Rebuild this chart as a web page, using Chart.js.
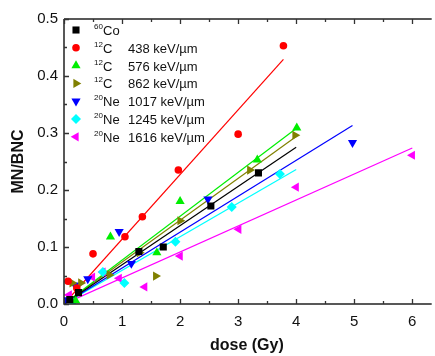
<!DOCTYPE html>
<html>
<head>
<meta charset="utf-8">
<script src="https://cdn.jsdelivr.net/npm/chart.js@4/dist/chart.umd.min.js"></script>
<style>
  html, body { margin: 0; padding: 0; background: #fff; }
  #wrap { width: 435px; height: 356px; }
</style>
</head>
<body>
<div id="wrap"><canvas id="chart" width="435" height="356"></canvas></div>
<script>
// series (dose in Gy, MN/BNC)
const isotopes = ["60", "12", "12", "12", "20", "20", "20"];
const elements = ["Co", "C", "C", "C", "Ne", "Ne", "Ne"];
const letLabels = ["", "438 keV/\u00b5m", "576 keV/\u00b5m", "862 keV/\u00b5m", "1017 keV/\u00b5m", "1245 keV/\u00b5m", "1616 keV/\u00b5m"];

const doseCo = [0.1, 0.25, 1.29, 1.71, 2.53, 3.35];
const mnCo = [0.008, 0.02, 0.092, 0.1, 0.172, 0.23];
const doseC438 = [0.07, 0.22, 0.5, 1.05, 1.35, 1.97, 3.0, 3.78];
const mnC438 = [0.04, 0.028, 0.088, 0.118, 0.153, 0.235, 0.298, 0.453];
const doseC576 = [0.2, 0.8, 1.6, 2.0, 3.33, 4.01];
const mnC576 = [0.006, 0.118, 0.09, 0.18, 0.253, 0.309];
const doseC862 = [0.14, 0.29, 0.78, 1.3, 1.58, 2.0, 3.2, 3.98];
const mnC862 = [0.037, 0.037, 0.051, 0.09, 0.049, 0.146, 0.235, 0.296];
const doseNe1017 = [0.02, 0.19, 0.41, 0.95, 1.16, 2.48, 4.97];
const mnNe1017 = [0.007, 0.033, 0.044, 0.127, 0.071, 0.184, 0.283];
const doseNe1245 = [0.15, 0.67, 1.04, 1.92, 2.89, 3.72];
const mnNe1245 = [0.004, 0.056, 0.037, 0.109, 0.17, 0.228];
const doseNe1616 = [0.09, 0.49, 0.67, 0.95, 1.39, 2.0, 3.01, 4.0, 6.0];
const mnNe1616 = [0.016, 0.047, 0.056, 0.045, 0.03, 0.084, 0.131, 0.205, 0.261];

// linear fits through origin: slope and last dose of each fit line
const fitSlopes = [0.0688, 0.1135, 0.077, 0.0735, 0.063, 0.059, 0.0456];
const fitEnds = [4.0, 3.78, 4.0, 4.0, 4.97, 4.0, 6.0];

const xTicks = [0, 1, 2, 3, 4, 5, 6];
const yTicks = [0.0, 0.1, 0.2, 0.3, 0.4, 0.5];

const allDoses = [doseCo, doseC438, doseC576, doseC862, doseNe1017, doseNe1245, doseNe1616];
const allMn = [mnCo, mnC438, mnC576, mnC862, mnNe1017, mnNe1245, mnNe1616];

const colors = ["#000000", "#ff0000", "#00ee00", "#808000", "#0000ff", "#00ffff", "#ff00ff"];
const styles = [
  { pointStyle: "rect", rotation: 0, radius: 5 },
  { pointStyle: "circle", rotation: 0, radius: 3.8 },
  { pointStyle: "triangle", rotation: 0, radius: 5.3 },
  { pointStyle: "triangle", rotation: 90, radius: 5.3 },
  { pointStyle: "triangle", rotation: 180, radius: 5.3 },
  { pointStyle: "rectRot", rotation: 0, radius: 5 },
  { pointStyle: "triangle", rotation: 270, radius: 5.3 },
];

const datasets = [];
allDoses.forEach((doses, i) => {
  datasets.push({
    type: "line",
    data: [{ x: 0, y: 0 }, { x: fitEnds[i], y: fitSlopes[i] * fitEnds[i] }],
    borderColor: colors[i],
    borderWidth: 1.2,
    pointRadius: 0,
    fill: false,
    order: 2,
  });
  datasets.push({
    type: "scatter",
    data: doses.map((d, k) => ({ x: d, y: allMn[i][k] })),
    backgroundColor: colors[i],
    borderColor: colors[i],
    borderWidth: 0,
    pointStyle: styles[i].pointStyle,
    rotation: styles[i].rotation,
    pointRadius: styles[i].radius,
    order: 1,
  });
});

// frame, inward ticks and legend
const decorations = {
  id: "decorations",
  afterDraw(chart) {
    const ctx = chart.ctx;
    const xs = chart.scales.x, ys = chart.scales.y;
    const a = chart.chartArea;
    ctx.save();
    ctx.strokeStyle = "#222";
    ctx.lineWidth = 1.5;
    ctx.beginPath();
    ctx.moveTo(a.left, a.top);
    ctx.lineTo(a.right + 2, a.top);
    ctx.moveTo(a.left, a.top);
    ctx.lineTo(a.left, a.bottom);
    ctx.lineTo(a.right + 2, a.bottom);
    ctx.stroke();

    ctx.lineWidth = 1.3;
    ctx.strokeStyle = "#333";
    ctx.beginPath();
    for (let v = 0; v <= 6.3; v += 0.5) {
      const px = Math.round(xs.getPixelForValue(v)) + 0.5;
      const len = Number.isInteger(v) ? 5 : 3;
      ctx.moveTo(px, a.bottom); ctx.lineTo(px, a.bottom - len);
      ctx.moveTo(px, a.top); ctx.lineTo(px, a.top + len);
    }
    for (let k = 0; k <= 10; k++) {
      const py = Math.round(ys.getPixelForValue(k * 0.05)) + 0.5;
      const len = k % 2 === 0 ? 5 : 3;
      ctx.moveTo(a.left, py); ctx.lineTo(a.left + len, py);
    }
    ctx.stroke();

    // legend
    const rowY = 30, rowH = 17.8;
    isotopes.forEach((iso, i) => {
      const y = rowY + i * rowH;
      ctx.fillStyle = colors[i];
      ctx.strokeStyle = colors[i];
      Chart.helpers.drawPoint(ctx, {
        pointStyle: styles[i].pointStyle,
        rotation: styles[i].rotation,
        radius: styles[i].radius,
        borderWidth: 0,
      }, 76, y);
      ctx.fillStyle = "#111";
      ctx.textBaseline = "alphabetic";
      ctx.textAlign = "left";
      ctx.font = "8px 'Liberation Sans', Arial, sans-serif";
      const isoW = ctx.measureText(iso).width;
      ctx.fillText(iso, 103 - isoW, y - 1);
      ctx.font = "13px 'Liberation Sans', Arial, sans-serif";
      ctx.fillText(elements[i], 103, y + 5);
      ctx.fillText(letLabels[i], 128, y + 5);
    });
    ctx.restore();
  },
};

new Chart(document.getElementById("chart"), {
  type: "scatter",
  data: { datasets },
  options: {
    responsive: false,
    animation: false,
    layout: { padding: { top: 19, right: 0, left: 0, bottom: 0 } },
    plugins: { legend: { display: false }, tooltip: { enabled: false } },
    scales: {
      x: {
        type: "linear",
        min: 0,
        max: 6.3,
        afterBuildTicks: s => { s.ticks = xTicks.map(v => ({ value: v })); },
        afterFit: s => { s.height = 52; },
        grid: { display: false, drawTicks: false },
        border: { display: false },
        ticks: {
          color: "#111",
          padding: 9,
          maxRotation: 0,
          font: { family: "'Liberation Sans', Arial, sans-serif", size: 15 },
          callback: v => String(v),
        },
        title: {
          display: true,
          text: "dose (Gy)",
          color: "#111",
          padding: { top: 0, bottom: 1 },
          font: { family: "'Liberation Sans', Arial, sans-serif", size: 16, weight: "bold" },
        },
      },
      y: {
        type: "linear",
        min: 0,
        max: 0.5,
        afterBuildTicks: s => { s.ticks = yTicks.map(v => ({ value: v })); },
        afterFit: s => { s.width = 64; },
        grid: { display: false, drawTicks: false },
        border: { display: false },
        ticks: {
          color: "#111",
          padding: 6,
          font: { family: "'Liberation Sans', Arial, sans-serif", size: 15 },
          callback: v => Number(v).toFixed(1),
        },
        title: {
          display: true,
          text: "MN/BNC",
          color: "#111",
          padding: { top: 9, bottom: 0 },
          font: { family: "'Liberation Sans', Arial, sans-serif", size: 16, weight: "bold" },
        },
      },
    },
  },
  plugins: [decorations],
});
</script>
</body>
</html>
